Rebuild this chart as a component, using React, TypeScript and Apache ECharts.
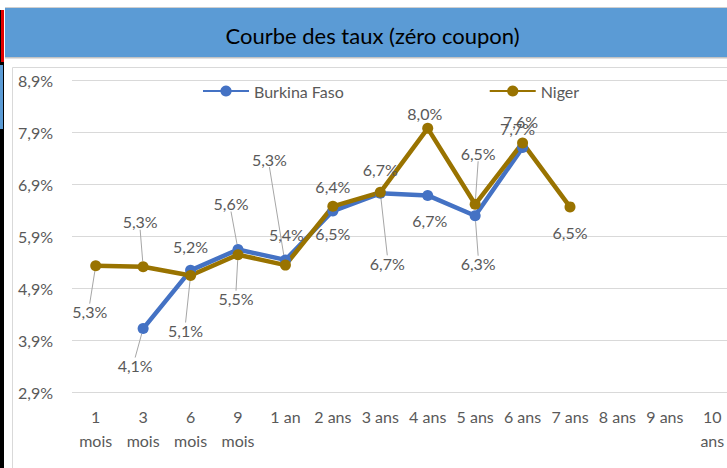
import React, { useEffect, useRef } from "react";
import * as echarts from "echarts";

const titleText = "Courbe des taux (zéro coupon)";
const categories = [
  "1\nmois", "3\nmois", "6\nmois", "9\nmois", "1 an", "2 ans", "3 ans",
  "4 ans", "5 ans", "6 ans", "7 ans", "8 ans", "9 ans", "10\nans",
];
const burkinaFaso = [null, 4.12, 5.24, 5.64, 5.44, 6.38, 6.72, 6.68, 6.29, 7.6, null, null, null, null];
const niger = [5.33, 5.31, 5.14, 5.54, 5.34, 6.47, 6.74, 7.97, 6.51, 7.69, 6.46, null, null, null];
const yMin = 2.9;
const yMax = 8.9;
const yStep = 1;

// label placement (style only): offset of label centre from its point, and whether a leader line is drawn
const burkinaLabelOffsets = [
  [0, 0], [-8, 37], [0, -24], [-7, -46], [1, -25], [0, -25], [0, -24],
  [2, 25], [3, 48], [-2, -26], [0, 0], [0, 0], [0, 0], [0, 0],
];
const burkinaLeaders = [false, true, false, true, false, false, false, false, true, false, false, false, false, false];
const nigerLabelOffsets = [
  [-6, 46], [-3, -45], [-5, 55], [-2, 44], [-16, -106], [0, 27], [7, 71],
  [-3, -15], [3, -51], [-5, -14], [0, 26], [0, 0], [0, 0], [0, 0],
];
const nigerLeaders = [true, true, true, true, true, false, true, false, true, false, false, false, false, false];

const BLUE = "#4472C4";
const GOLD = "#997300";
const TEXT = "#595959";
const FONT = "Lato, 'Noto Sans', sans-serif";

const fmt = (v: number) => v.toFixed(1).replace(".", ",") + "%";

function buildData(values: (number | null)[], leaders: boolean[]) {
  return values.map((v, i) =>
    v == null ? null : { value: v, labelLine: { show: leaders[i] } }
  );
}

function makeSeries(name: string, values: (number | null)[], color: string, offsets: number[][], leaders: boolean[]) {
  return {
    name,
    type: "line",
    data: buildData(values, leaders),
    symbol: "circle",
    symbolSize: 11,
    showSymbol: true,
    connectNulls: false,
    lineStyle: { color, width: 4.5 },
    itemStyle: { color },
    label: {
      show: true,
      position: "inside",
      formatter: (p: any) => fmt(p.value),
      color: TEXT,
      fontSize: 16,
      fontFamily: FONT,
    },
    labelLine: { show: false, lineStyle: { color: "#a6a6a6", width: 1 } },
    labelLayout: (p: any) => {
      const o = offsets[p.dataIndex] || [0, 0];
      return { dx: o[0], dy: o[1] };
    },
  };
}

export default function App() {
  const ref = useRef<HTMLDivElement>(null);
  useEffect(() => {
    if (!ref.current) return;
    const chart = echarts.init(ref.current, undefined, { renderer: "svg" });
    chart.setOption({
      animation: false,
      backgroundColor: "#ffffff",
      title: {
        text: titleText,
        left: "center",
        top: 19,
        textStyle: { color: "#000", fontSize: 22, fontWeight: "normal", fontFamily: FONT },
      },
      graphic: [
        { type: "rect", z: -10, shape: { x: 5, y: 7, width: 760, height: 1 }, style: { fill: "#cfcfcf" } },
        { type: "rect", z: -10, shape: { x: 5, y: 8, width: 760, height: 49 }, style: { fill: "#5b9bd5" } },
        { type: "rect", z: -10, shape: { x: 5, y: 57, width: 760, height: 1.5 }, style: { fill: "#c4c4c4" } },
        { type: "rect", z: -10, shape: { x: 12.5, y: 67.5, width: 760, height: 500 }, style: { fill: "none", stroke: "#d9d9d9", lineWidth: 1 } },
        { type: "rect", z: -10, shape: { x: 0, y: 10, width: 1, height: 52 }, style: { fill: "#000" } },
        { type: "rect", z: -10, shape: { x: 1, y: 10, width: 3, height: 52 }, style: { fill: "#e00000" } },
        { type: "rect", z: -10, shape: { x: 0, y: 62, width: 4, height: 3 }, style: { fill: "#000" } },
        { type: "rect", z: -10, shape: { x: 0, y: 65, width: 3, height: 64 }, style: { fill: "#5b9bd5" } },
        { type: "rect", z: -10, shape: { x: 3, y: 65, width: 1, height: 64 }, style: { fill: "#000" } },
        { type: "rect", z: -10, shape: { x: 0, y: 129, width: 4, height: 340 }, style: { fill: "#000" } },
      ],
      legend: {
        left: 197,
        top: 78,
        itemGap: 145,
        itemWidth: 46,
        itemHeight: 14,
        textStyle: { color: TEXT, fontSize: 16, fontFamily: FONT },
        data: ["Burkina Faso", "Niger"],
      },
      grid: { left: 72, right: 9, top: 80, bottom: 76, containLabel: false },
      xAxis: {
        type: "category",
        data: categories,
        boundaryGap: true,
        axisLine: { show: false },
        axisTick: { show: false },
        axisLabel: {
          interval: 0,
          color: TEXT,
          fontSize: 16,
          lineHeight: 24,
          margin: 12,
          fontFamily: FONT,
        },
      },
      yAxis: {
        type: "value",
        min: yMin,
        max: yMax,
        interval: yStep,
        axisLine: { show: false },
        axisTick: { show: false },
        splitLine: { lineStyle: { color: "#d9d9d9", width: 1 } },
        axisLabel: {
          color: TEXT,
          fontSize: 16,
          margin: 19,
          padding: [8, 0, 0, 0],
          fontFamily: FONT,
          formatter: (v: number) => fmt(v),
        },
      },
      series: [
        makeSeries("Burkina Faso", burkinaFaso, BLUE, burkinaLabelOffsets, burkinaLeaders),
        makeSeries("Niger", niger, GOLD, nigerLabelOffsets, nigerLeaders),
      ],
    });
    return () => chart.dispose();
  }, []);
  return (
    <div style={{ position: "fixed", left: 0, top: 0, width: 727, height: 468, overflow: "hidden", background: "#fff" }}>
      <div ref={ref} style={{ width: 745, height: 468 }} />
    </div>
  );
}
